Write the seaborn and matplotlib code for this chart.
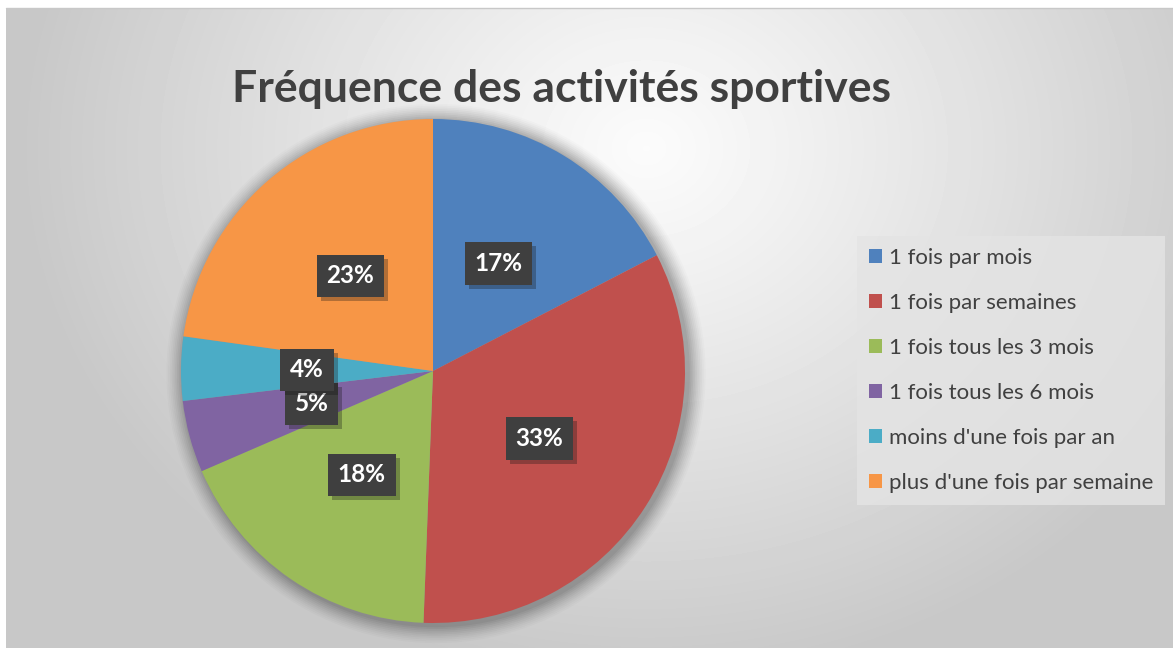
import numpy as np
import matplotlib
matplotlib.use("Agg")
import matplotlib.pyplot as plt
import matplotlib.patheffects as pe
from matplotlib.patches import Patch, Circle
import seaborn as sns

# Data
categories = ["1 fois par mois", "1 fois par semaines", "1 fois tous les 3 mois",
              "1 fois tous les 6 mois", "moins d'une fois par an",
              "plus d'une fois par semaine"]
shares = [17.4, 33.2, 17.9, 4.6, 4.1, 22.8]
colors = ["#4F81BD", "#C0504D", "#9BBB59", "#8064A2", "#4BACC6", "#F79646"]
title = "Fréquence des activités sportives"

sns.set_theme(style="white")
plt.rcParams["font.family"] = ["Lato", "DejaVu Sans"]

W, H = 1173, 648
fig = plt.figure(figsize=(W / 100, H / 100), dpi=100)
fig.patch.set_facecolor("white")

# Background: soft radial gray gradient like the Office chart style
bg = fig.add_axes([6 / W, 0, 1 - 6 / W, 1 - 8 / H])
yy, xx = np.mgrid[0:H - 8, 0:W - 6]
d = np.hypot((xx - 640) / 1.0, (yy - 140) / 0.85)
shade = 0.985 - 0.20 * np.clip(d / 620, 0, 1) ** 1.1
bg.imshow(shade, cmap="gray", vmin=0, vmax=1, aspect="auto", interpolation="bilinear")
bg.set_axis_off()
fig.add_artist(plt.Line2D([6 / W, 1], [1 - 7.5 / H] * 2, color="#c8c8c8", lw=1))

# Pie axes: centre (433, 371) px, radius 252 px
cx, cy, r = 433, 371, 252
ax = fig.add_axes([(cx - r) / W, (H - cy - r) / H, 2 * r / W, 2 * r / H])

# faint shadow behind the pie
for k, a in zip(range(10, 0, -1), np.linspace(0.015, 0.05, 10)):
    ax.add_patch(Circle((0.012, -0.01), 1 + k * 0.007, color="black", alpha=a,
                        lw=0, zorder=0, clip_on=False))

wedges, texts, autotexts = ax.pie(
    shares, colors=colors, startangle=90, counterclock=False,
    autopct=lambda p: f"{p:.0f}%", pctdistance=0.5,
    wedgeprops=dict(linewidth=0),
    textprops=dict(color="white", fontsize=17.5, fontweight="bold"))
ax.set_xlim(-1, 1)
ax.set_ylim(-1, 1)
ax.set_axis_off()

for t in autotexts:
    t.set_bbox(dict(facecolor="#3f3f3f", edgecolor="none", boxstyle="square,pad=0.4"))
    t.get_bbox_patch().set_path_effects(
        [pe.SimplePatchShadow(offset=(3, -3), alpha=0.3), pe.Normal()])

fig.text(561 / W, 1 - 89 / H, title, ha="center", va="center",
         fontsize=32, fontweight="bold", color="#404040")

handles = [Patch(facecolor=c, edgecolor="none") for c in colors]
leg = fig.legend(handles, categories, loc="upper left",
                 bbox_to_anchor=(857 / W, 1 - 236 / H), frameon=True,
                 fontsize=16, labelspacing=1.12, handlelength=0.58,
                 handleheight=0.58, handletextpad=0.3, borderpad=0.55,
                 borderaxespad=0, fancybox=False, labelcolor="#404040")
leg.get_frame().set_facecolor("#e4e4e4")
leg.get_frame().set_edgecolor("none")

fig.savefig("out.png", dpi=100)
